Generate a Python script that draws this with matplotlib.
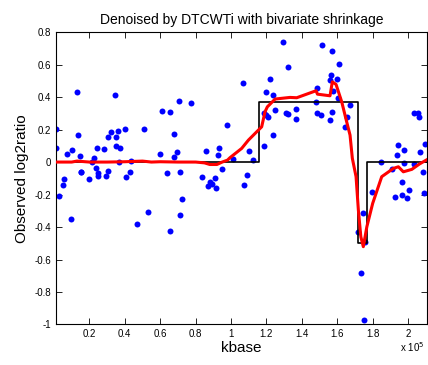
import matplotlib.pyplot as plt

plt.rcParams['font.family'] = ['Liberation Sans', 'DejaVu Sans']

# observed points (kbase, log2ratio)
obs_x = [1000, 1100, 13000, 13400, 7500, 10300, 14700, 15400, 21300, 22800, 24300, 23600, 24700,
         28300, 30300, 32000, 30300, 34500, 35200, 36000, 35200, 37500, 36600, 40100, 43700, 43100,
         50700, 59900, 60800, 65400, 67600, 69300, 67800, 63700, 70600, 71400, 77400, 85900, 93000,
         92500, 94700, 97700, 101300, 106600, 2700, 4900, 5800, 9400, 15400, 19600, 24700, 29400,
         40500, 46900, 53300, 65500, 71400, 72300, 83800, 87200, 88300, 89400, 91500, 91100,
         110300, 112200, 108900, 107500, 118500, 123700, 118800, 119800, 121100, 119800, 122000,
         123900, 125000, 129200, 132200, 131100, 132200, 136700, 136900, 148000, 148400, 148600,
         150700, 151600, 156900, 156100, 157200, 156500, 155900, 159900, 157600, 161200, 160300,
         167400, 165700, 164400, 184700, 190800, 194200, 193800, 197900, 197600, 203100, 205800,
         206200, 203600, 206600, 208300, 209400, 174700, 171900, 175500, 173300, 175300, 179800,
         196600, 192800, 196700, 199400, 200700, 209200]
obs_y = [0.205, 0.086, 0.43, 0.164, 0.049, 0.074, 0.039, -0.06, 0.002, 0.023, 0.088, -0.039, -0.068,
         0.08, 0.154, 0.187, -0.053, 0.41, 0.152, 0.189, 0.10, 0.086, 0.002, 0.205, 0.006, -0.062,
         0.205, 0.051, 0.316, 0.31, 0.174, 0.062, 0.029, -0.068, 0.373, -0.062, 0.365, 0.068, 0.088,
         0.045, -0.043, 0.228, 0.02, 0.488, -0.207, -0.142, -0.107, -0.349, -0.064, -0.107, -0.084,
         -0.084, -0.09, -0.382, -0.308, -0.427, -0.324, -0.228, -0.09, -0.148, -0.123, -0.137, -0.162,
         -0.1, 0.068, 0.014, -0.08, -0.14, 0.1, 0.166, 0.303, 0.289, 0.275, 0.433, 0.513, 0.412,
         0.318, 0.738, 0.587, 0.3, 0.297, 0.328, 0.265, 0.371, 0.453, 0.303, 0.289, 0.72, 0.31, 0.257,
         0.681, 0.535, 0.505, 0.511, 0.437, 0.603, 0.394, 0.351, 0.275, 0.213, -0.002, -0.045, 0.105,
         0.043, 0.076, -0.004, 0.302, 0.303, 0.275, -0.012, 0.06, -0.062, 0.113, -0.312, -0.433,
         -0.494, -0.685, -0.974, -0.185, -0.121, -0.217, -0.205, -0.22, -0.172, -0.193]

# underlying step profile
step_x = [1000, 116000, 116000, 171900, 171900, 176700, 176700, 210700]
step_y = [0, 0, 0.371, 0.371, -0.5, -0.5, 0, 0]

# denoised estimate
den_x = [1000, 10000, 13000, 20000, 30000, 40000, 50000, 55000, 60000, 70000, 80000, 85000,
         88000, 92000, 95000, 98000, 99400, 106000, 109800, 117300, 119200, 120500, 124900,
         133300, 137100, 148000, 148800, 155900, 157200, 159300, 162500, 165300, 167200, 168500,
         170600, 171900, 173300, 174700, 176700, 180000, 185100, 191700, 194500, 197300, 202100,
         206400, 210700]
den_y = [0.0, 0.0, 0.006, 0.0, 0.0, 0.002, 0.006, 0.0, 0.002, 0.0, 0.0, -0.005, -0.015, -0.015,
         0.0, 0.012, 0.027, 0.084, 0.135, 0.217, 0.31, 0.34, 0.388, 0.398, 0.396, 0.439, 0.418,
         0.408, 0.494, 0.478, 0.371, 0.248, 0.166, 0.023, -0.09, -0.295, -0.46, -0.521, -0.398,
         -0.254, -0.09, -0.039, -0.029, -0.06, -0.045, -0.012, 0.015]

# axis ticks
x_ticks = [20000, 40000, 60000, 80000, 100000, 120000, 140000, 160000, 180000, 200000]
x_tick_labels = ['0.2', '0.4', '0.6', '0.8', '1', '1.2', '1.4', '1.6', '1.8', '2']
y_ticks = [-1, -0.8, -0.6, -0.4, -0.2, 0, 0.2, 0.4, 0.6, 0.8]
y_tick_labels = ['-1', '-0.8', '-0.6', '-0.4', '-0.2', '0', '0.2', '0.4', '0.6', '0.8']

fig = plt.figure(figsize=(4.28, 3.65), dpi=100)
ax = fig.add_axes([0.1308, 0.111, 0.867, 0.801])

ax.plot(obs_x, obs_y, 'o', color='blue', markersize=4.3, markeredgewidth=0, zorder=2)
ax.plot(step_x, step_y, color='black', linewidth=1.2, zorder=3)
ax.plot(den_x, den_y, color='red', linewidth=2.2, zorder=4)

ax.set_xlim(1130, 210700)
ax.set_ylim(-1, 0.8)
ax.set_xticks(x_ticks)
ax.set_xticklabels(x_tick_labels)
ax.set_yticks(y_ticks)
ax.set_yticklabels(y_tick_labels)
ax.tick_params(direction='in', top=True, right=True, labelsize=7, length=4, width=0.6)
for s in ax.spines.values():
    s.set_linewidth(0.8)

ax.set_title('Denoised by DTCWTi with bivariate shrinkage', fontsize=10)
ax.set_xlabel('kbase', fontsize=11, labelpad=1)
ax.set_ylabel('Observed log2ratio', fontsize=11)
# matlab style exponent under the x axis
fig.text(0.935, 0.035, r'x 10$^5$', fontsize=7)

plt.savefig('out.png', dpi=100)
